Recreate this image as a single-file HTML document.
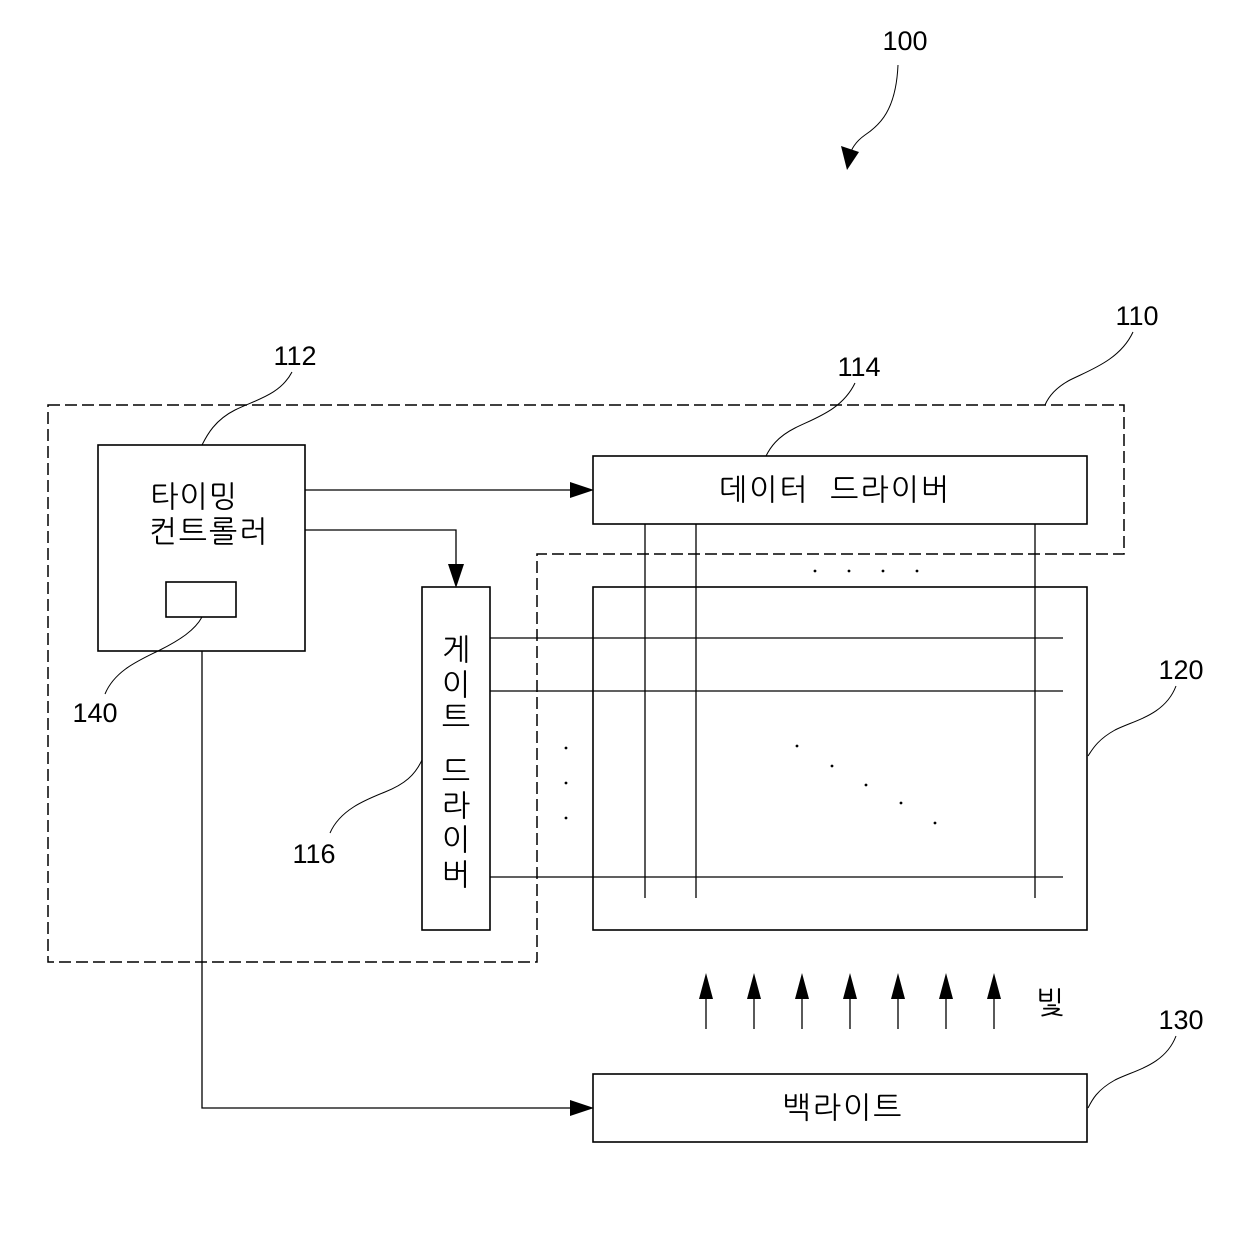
<!DOCTYPE html>
<html><head><meta charset="utf-8"><style>
html,body{margin:0;padding:0;background:#fff}
svg text{font-family:"Liberation Sans","NanumGothic","Noto Sans CJK KR",sans-serif;fill:#000}
</style></head><body>
<svg width="1240" height="1248" viewBox="0 0 1240 1248" xmlns="http://www.w3.org/2000/svg">
<g fill="none" stroke="#000" stroke-width="1.6">
<path d="M48,405 H1124 V554 H537 V962 H48 Z" stroke-dasharray="12,5" stroke-width="1.5"/>
<rect x="98" y="445" width="207" height="206"/>
<rect x="166" y="582" width="70" height="35"/>
<rect x="593" y="456" width="494" height="68"/>
<rect x="422" y="587" width="68" height="343"/>
<rect x="593" y="587" width="494" height="343"/>
<rect x="593" y="1074" width="494" height="68"/>
<g stroke-width="1.3">
<path d="M305,490 H580"/>
<path d="M305,530 H456 V574"/>
<path d="M202,651 V1108 H580"/>
<path d="M645,524 V898 M696,524 V898 M1035,524 V898"/>
<path d="M490,638 H1063 M490,691 H1063 M490,877 H1063"/>
<path d="M706,1029 V994 M754,1029 V994 M802,1029 V994 M850,1029 V994 M898,1029 V994 M946,1029 V994 M994,1029 V994"/>
</g>
<g stroke-width="1">
<path d="M898,65 C896,110 880,125 865,135 C855,142 851,150 850,155"/>
<path d="M1133,332 C1120,360 1090,370 1070,380 C1055,388 1048,398 1045,405"/>
<path d="M292,372 C280,395 255,400 235,410 C215,420 207,435 202,445"/>
<path d="M855,383 C842,410 815,418 795,428 C777,437 770,448 766,456"/>
<path d="M1176,686 C1165,715 1135,720 1115,730 C1097,740 1092,750 1088,756"/>
<path d="M1176,1036 C1165,1065 1135,1070 1115,1080 C1097,1090 1092,1100 1088,1108"/>
<path d="M105,694 C115,670 140,660 160,650 C180,640 195,630 202,617"/>
<path d="M330,833 C340,810 365,800 385,792 C405,784 415,775 422,760"/>
</g>
</g>
<g fill="#000">
<path d="M594,490 L570,482 L570,498 Z"/>
<path d="M456,588 L448,564 L464,564 Z"/>
<path d="M594,1108 L570,1100 L570,1116 Z"/>
<path d="M847,170 L841,146 L859,152 Z"/>
<path d="M706,973 L699,999 L713,999 Z"/>
<path d="M754,973 L747,999 L761,999 Z"/>
<path d="M802,973 L795,999 L809,999 Z"/>
<path d="M850,973 L843,999 L857,999 Z"/>
<path d="M898,973 L891,999 L905,999 Z"/>
<path d="M946,973 L939,999 L953,999 Z"/>
<path d="M994,973 L987,999 L1001,999 Z"/>
<circle cx="815" cy="571" r="1.4"/><circle cx="849" cy="571" r="1.4"/><circle cx="883" cy="571" r="1.4"/><circle cx="917" cy="571" r="1.4"/>
<circle cx="566" cy="748" r="1.4"/><circle cx="566" cy="783" r="1.4"/><circle cx="566" cy="818" r="1.4"/>
<circle cx="797" cy="746" r="1.4"/><circle cx="832" cy="766" r="1.4"/><circle cx="866" cy="785" r="1.4"/><circle cx="901" cy="803" r="1.4"/><circle cx="935" cy="823" r="1.4"/>
</g>
<g font-size="27" text-anchor="middle">
<text x="905" y="50">100</text>
<text x="1137" y="325">110</text>
<text x="295" y="365">112</text>
<text x="859" y="376">114</text>
<text x="1181" y="679">120</text>
<text x="1181" y="1029">130</text>
<text x="95" y="722">140</text>
<text x="314" y="863">116</text>
</g>
<g font-size="30" text-anchor="middle">
<text x="194" y="507" letter-spacing="1">타이밍</text>
<text x="209" y="542" letter-spacing="2">컨트롤러</text>
<text x="835" y="500" xml:space="preserve" letter-spacing="2">데이터  드라이버</text>
<text x="843" y="1118" letter-spacing="2">백라이트</text>
<text x="1050" y="1013">빛</text>
<text x="456" y="660">게</text>
<text x="456" y="695">이</text>
<text x="456" y="728">트</text>
<text x="456" y="782">드</text>
<text x="456" y="816">라</text>
<text x="456" y="850">이</text>
<text x="456" y="885">버</text>
</g>
</svg>
</body></html>
